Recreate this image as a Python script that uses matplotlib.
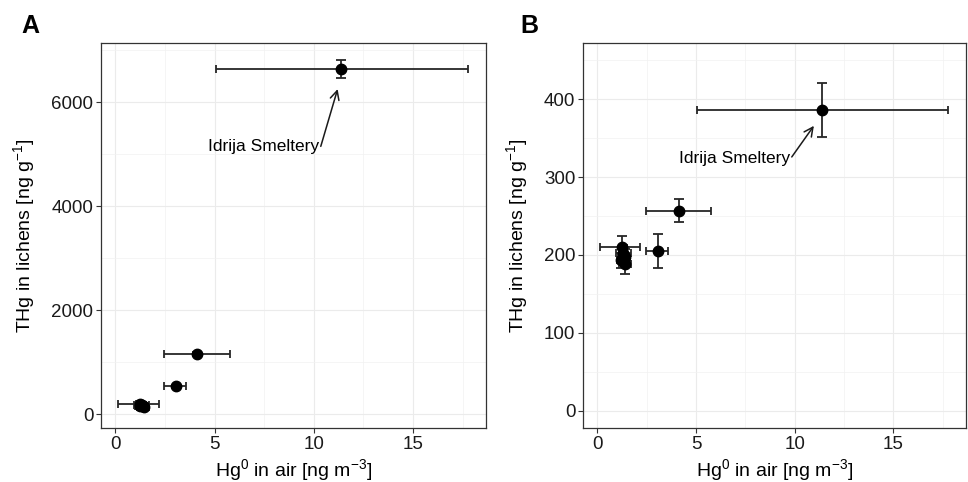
import numpy as np
import matplotlib
matplotlib.use("Agg")
import matplotlib.pyplot as plt
from matplotlib.ticker import MultipleLocator

plt.rcParams['font.family'] = ['Liberation Sans', 'DejaVu Sans']
plt.rcParams['mathtext.fontset'] = 'custom'
plt.rcParams['mathtext.rm'] = 'Liberation Sans'
plt.rcParams['mathtext.it'] = 'Liberation Sans'
plt.rcParams['mathtext.default'] = 'regular'

# Hg0 in air (same sites in both panels)
hg_air = [11.38, 4.12, 3.05, 1.25, 1.32, 1.38, 1.22, 1.42]
hg_lo = [5.07, 2.47, 2.47, 0.15, 0.95, 1.05, 1.0, 1.1]
hg_hi = [17.75, 5.78, 3.57, 2.18, 1.7, 1.65, 1.5, 1.7]

# panel A: THg in lichens
thg_a = [6630, 1160, 540, 210, 190, 170, 160, 150]
thg_a_err = [175, 40, 30, 50, 45, 40, 50, 60]

# panel B: THg in lichens
thg_b = [386, 257, 205, 210, 203, 198, 193, 188]
thg_b_err = [35, 15, 22, 14, 10, 10, 10, 12]

label_txt = 'Idrija Smeltery'

W, H = 968, 482
fig = plt.figure(figsize=(W / 100, H / 100), dpi=100)

grid_col = '#ebebeb'
err_col = '#262626'


def setup(ax, ylim, ymaj, ymin):
    ax.set_xlim(-0.73, 18.68)
    ax.set_ylim(*ylim)
    ax.xaxis.set_major_locator(MultipleLocator(5))
    ax.xaxis.set_minor_locator(MultipleLocator(2.5))
    ax.yaxis.set_major_locator(MultipleLocator(ymaj))
    ax.yaxis.set_minor_locator(MultipleLocator(ymin))
    ax.grid(True, which='major', color=grid_col, linewidth=0.8)
    ax.grid(True, which='minor', color='#f2f2f2', linewidth=0.5)
    ax.set_axisbelow(True)
    ax.tick_params(which='major', direction='out', length=3.5, width=0.8,
                   color='#333333', labelsize=13.5, labelcolor='#1a1a1a', pad=2)
    ax.tick_params(which='minor', length=0)
    for s in ax.spines.values():
        s.set_color('#333333')
        s.set_linewidth(0.9)
    ax.set_xlabel('Hg$^0$ in air [ng m$^{-3}$]', fontsize=14, labelpad=3)
    ax.set_ylabel('THg in lichens [ng g$^{-1}$]', fontsize=14, labelpad=10)


def draw(ax, ys, yerr):
    x = np.array(hg_air)
    xerr = [x - np.array(hg_lo), np.array(hg_hi) - x]
    ax.errorbar(x, ys, xerr=xerr, fmt='none', ecolor=err_col,
                elinewidth=1.3, capsize=3.0, capthick=1.3, zorder=2)
    ax.errorbar(x, ys, yerr=yerr, fmt='none', ecolor=err_col,
                elinewidth=1.3, capsize=3.8, capthick=1.3, zorder=2)
    ax.plot(x, ys, 'o', color='black', markersize=7.5, zorder=3)


axA = fig.add_axes([101 / W, (H - 428) / H, (486 - 101) / W, (428 - 43) / H])
setup(axA, (-260, 7135), 2000, 1000)
draw(axA, thg_a, thg_a_err)
axA.text(10.25, 5140, label_txt, ha='right', va='center', fontsize=12.5)
axA.annotate('', xy=(11.2, 6250), xytext=(10.35, 5150),
             arrowprops=dict(arrowstyle='->', color='#1a1a1a', lw=1.1,
                             shrinkA=0, shrinkB=0, mutation_scale=16))

axB = fig.add_axes([583 / W, (H - 428) / H, (966 - 583) / W, (428 - 43) / H])
setup(axB, (-22.5, 472.5), 100, 50)
draw(axB, thg_b, thg_b_err)
axB.text(9.78, 324, label_txt, ha='right', va='center', fontsize=12.5)
axB.annotate('', xy=(10.97, 366), xytext=(9.85, 326),
             arrowprops=dict(arrowstyle='->', color='#1a1a1a', lw=1.1,
                             shrinkA=0, shrinkB=0, mutation_scale=16))

fig.text(21 / W, (H - 33) / H, 'A', fontsize=18, fontweight='bold',
         ha='left', va='baseline')
fig.text(520 / W, (H - 33) / H, 'B', fontsize=18, fontweight='bold',
         ha='left', va='baseline')

fig.savefig('out.png', dpi=100)
